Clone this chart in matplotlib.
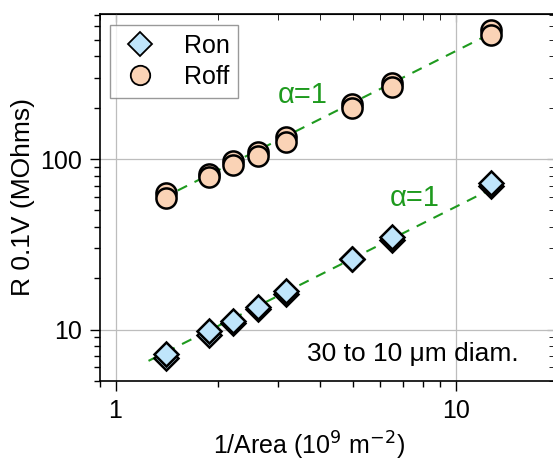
import matplotlib
matplotlib.use("Agg")
import matplotlib.pyplot as plt
import numpy as np
from matplotlib.ticker import LogLocator, NullFormatter, FixedLocator, FixedFormatter

plt.rcParams["font.family"] = ["Liberation Sans", "DejaVu Sans"]

# 1/Area (10^9 m^-2) for 30,26,24,22,20,16,14,10 um diameters, two devices each
inv_area = [1.41, 1.88, 2.21, 2.63, 3.18, 4.97, 6.50, 12.7]
ron_a = [7.2, 9.8, 11.2, 13.5, 16.9, 25.8, 35.0, 72.0]
ron_b = [6.85, 9.3, 11.0, 13.3, 16.1, 25.8, 33.7, 70.0]
roff_a = [63, 82, 97, 110, 135, 212, 278, 575]
roff_b = [59, 79, 93, 105, 126, 199, 264, 535]

# alpha = 1 guide lines: R = k * (1/Area)
fit_x_on = [1.25, 13.0]
k_on = 5.25
fit_x_off = [1.36, 13.4]
k_off = 43.0

green = "#1e9a1e"
H = 461

fig = plt.figure(figsize=(5.53, 4.61), dpi=100)
ax = fig.add_axes([100 / 553, 80 / 461, 455 / 553, 367 / 461])

ax.plot(fit_x_off, [k_off * v for v in fit_x_off], "--", color=green, lw=1.5,
        dashes=(5, 4), zorder=2)
ax.plot(fit_x_on, [k_on * v for v in fit_x_on], "--", color=green, lw=1.5,
        dashes=(5, 4), zorder=2)

for ys in (ron_b, ron_a):
    ax.plot(inv_area, ys, "D", ms=12.5, mfc="#bfe5fb", mec="black", mew=1.8,
            ls="none", zorder=3)
for ys in (roff_a, roff_b):
    ax.plot(inv_area, ys, "o", ms=14.5, mfc="#fad3b6", mec="black", mew=1.8,
            ls="none", zorder=3)

# legend handles
h1, = ax.plot([], [], "D", ms=12.5, mfc="#bfe5fb", mec="black", mew=1.3, ls="none")
h2, = ax.plot([], [], "o", ms=14, mfc="#fad3b6", mec="black", mew=1.3, ls="none")
leg = ax.legend([h1, h2], ["Ron", "Roff"], loc="upper left", fontsize=18,
                frameon=True, fancybox=False, edgecolor="#808080",
                bbox_to_anchor=((110 - 100) / 455, (381 - 25) / 367),
                borderaxespad=0, borderpad=0.35, handletextpad=0.9,
                labelspacing=0.3, handlelength=1.7)
leg.get_frame().set_linewidth(1.0)

ax.set_xscale("log")
ax.set_yscale("log")
ax.set_xlim(0.9, 19.6)
ax.set_ylim(5.0, 710)

ax.xaxis.set_major_locator(FixedLocator([1, 10]))
ax.xaxis.set_major_formatter(FixedFormatter(["1", "10"]))
ax.yaxis.set_major_locator(FixedLocator([10, 100]))
ax.yaxis.set_major_formatter(FixedFormatter(["10", "100"]))
ax.xaxis.set_minor_locator(LogLocator(base=10, subs=np.arange(2, 10), numticks=20))
ax.yaxis.set_minor_locator(LogLocator(base=10, subs=np.arange(2, 10), numticks=20))
ax.xaxis.set_minor_formatter(NullFormatter())
ax.yaxis.set_minor_formatter(NullFormatter())

ax.tick_params(which="both", labelsize=18, width=1.0, direction="out",
               top=False, right=False)
ax.tick_params(which="major", length=7)
ax.tick_params(which="minor", length=4)
ax.tick_params(axis="x", pad=6)
ax.tick_params(axis="y", pad=6)

# inward ticks on the top and right
sec_x = ax.secondary_xaxis("top")
sec_x.set_xticks([1, 10])
sec_x.xaxis.set_minor_locator(LogLocator(base=10, subs=np.arange(2, 10), numticks=20))
sec_x.tick_params(which="both", direction="in", labeltop=False)
sec_x.tick_params(which="major", length=6)
sec_x.tick_params(which="minor", length=4)
sec_x.xaxis.set_minor_formatter(NullFormatter())
sec_x.xaxis.set_major_formatter(NullFormatter())
sec_y = ax.secondary_yaxis("right")
sec_y.set_yticks([10, 100])
sec_y.yaxis.set_minor_locator(LogLocator(base=10, subs=np.arange(2, 10), numticks=20))
sec_y.tick_params(which="both", direction="in", labelright=False)
sec_y.tick_params(which="major", length=6)
sec_y.tick_params(which="minor", length=4)
sec_y.yaxis.set_minor_formatter(NullFormatter())
sec_y.yaxis.set_major_formatter(NullFormatter())

ax.grid(True, which="major", color="#bdbdbd", lw=0.9)
ax.set_axisbelow(True)
for s in ax.spines.values():
    s.set_linewidth(1.2)

ax.set_xlabel("1/Area (10$^{9}$ m$^{-2}$)", fontsize=18, va="center")
ax.xaxis.set_label_coords((309 - 100) / 455, -(446 - 381) / 367)
ax.set_ylabel("R 0.1V (MOhms)", fontsize=19, va="center")
ax.yaxis.set_label_coords(-(100 - 23) / 455, 0.5)

ax.text(303, H - 95, "\u03b1=1", fontsize=21, color=green, ha="center", va="center",
        transform=None)
ax.text(415, H - 198, "\u03b1=1", fontsize=21, color=green, ha="center", va="center",
        transform=None)
ax.text(413, H - 354, "30 to 10 \u03bcm diam.", fontsize=19, ha="center", va="center",
        transform=None)

fig.savefig("out.png", dpi=100)
